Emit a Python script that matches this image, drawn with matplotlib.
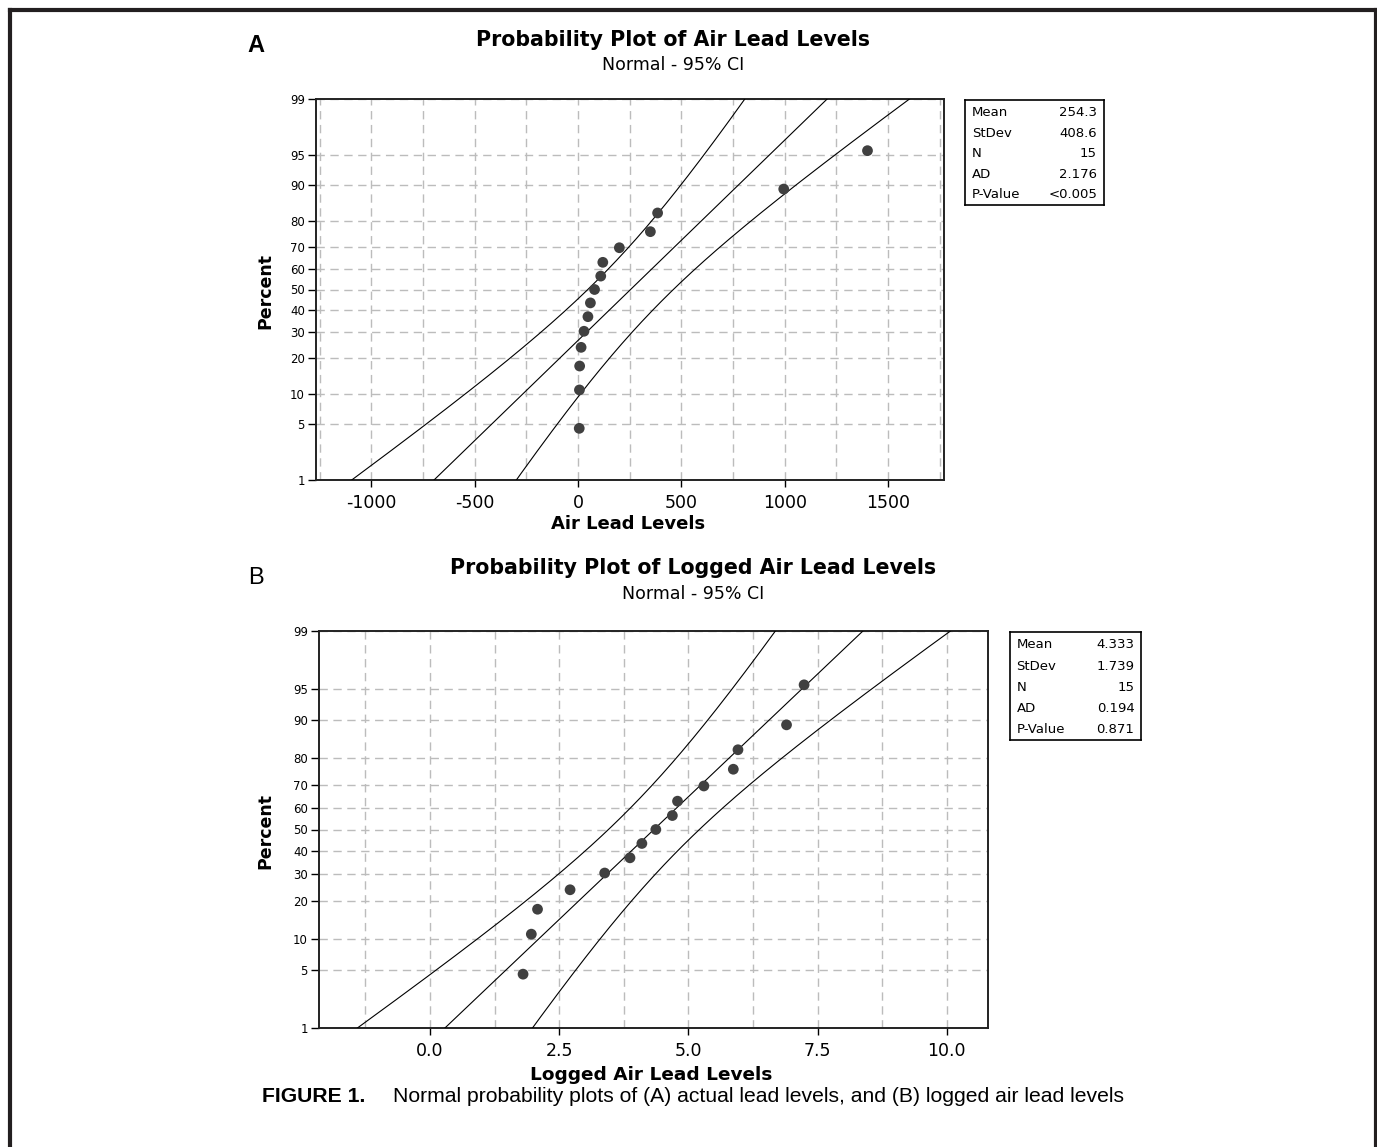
import numpy as np
import matplotlib
matplotlib.use('Agg')
import matplotlib.pyplot as plt
from matplotlib.lines import Line2D
from statistics import NormalDist

nd = NormalDist()

# plotting positions (percent) of the 15 ranked samples
percent = [4.5, 11.0, 17.5, 24.0, 30.5, 37.0, 43.5, 50.0, 56.5, 63.0, 69.5, 76.0, 82.5, 89.0, 95.5]
percent_ticks = [1, 5, 10, 20, 30, 40, 50, 60, 70, 80, 90, 95, 99]

# panel A - air lead levels
air_lead = [6, 7, 8, 15, 29, 48, 60, 80, 110, 120, 200, 350, 385, 995, 1400]
stats_names = ['Mean', 'StDev', 'N', 'AD', 'P-Value']
stats_a = ['254.3', '408.6', '15', '2.176', '<0.005']
mean_a, sd_a, n_a = 254.3, 408.6, 15
xticks_a = [-1000, -500, 0, 500, 1000, 1500]

# panel B - logged air lead levels
logged_lead = [1.80, 1.96, 2.08, 2.71, 3.38, 3.87, 4.10, 4.37, 4.69, 4.79, 5.30, 5.87, 5.96, 6.90, 7.24]
stats_b = ['4.333', '1.739', '15', '0.194', '0.871']
mean_b, sd_b, n_b = 4.333, 1.739, 15
xticks_b = [0.0, 2.5, 5.0, 7.5, 10.0]


def to_z(p):
    p = np.asarray(p, dtype=float) / 100.0
    ok = np.isfinite(p)
    p = np.clip(np.where(ok, p, 0.5), 1e-9, 1 - 1e-9)
    z = np.vectorize(nd.inv_cdf, otypes=[float])(p)
    return np.where(ok, z, np.nan)


def from_z(z):
    return np.vectorize(nd.cdf, otypes=[float])(np.asarray(z, dtype=float)) * 100.0


def prob_plot(ax, xs, mean, sd, n, xlim, xticks, grid_step, xfmt):
    ax.set_yscale('function', functions=(to_z, from_z))
    # fitted line and 95% CI for the percentiles
    z = np.linspace(-4.5, 4.5, 400)
    pct = from_z(z)
    half = 1.96 * sd * np.sqrt(1.0 / n + z ** 2 / (2.0 * n))
    fit = mean + z * sd
    for line in (fit - half, fit, fit + half):
        ax.plot(line, pct, color='black', lw=0.8, zorder=3)
    ax.scatter(xs, percent, s=60, color='#404040', edgecolors='none', zorder=4)

    ax.set_xlim(*xlim)
    ax.set_ylim(1, 99)
    ax.set_yticks(percent_ticks)
    ax.set_yticklabels([str(t) for t in percent_ticks])
    ax.set_xticks(xticks)
    ax.set_xticklabels([xfmt.format(t) for t in xticks])
    minor = np.arange(np.ceil(xlim[0] / grid_step) * grid_step, xlim[1], grid_step)
    ax.set_xticks([m for m in minor if not np.any(np.isclose(m, xticks))], minor=True)
    ax.set_yticks([], minor=True)
    ax.tick_params(which='minor', length=0)
    ax.tick_params(axis='y', which='major', length=6, width=1, labelsize=8.5, pad=2)
    ax.tick_params(axis='x', which='major', length=5, width=1, labelsize=12.5, pad=5)
    ax.grid(True, which='both', color='#bcbcbc', lw=1, ls=(0, (6, 4)), zorder=0)
    for s in ax.spines.values():
        s.set_linewidth(1.4)
        s.set_color('#222222')


def stats_box(rect, values):
    bx = fig.add_axes(rect)
    bx.set_xticks([])
    bx.set_yticks([])
    for s in bx.spines.values():
        s.set_linewidth(1.2)
    for i, (name, val) in enumerate(zip(stats_names, values)):
        y = 0.88 - i * 0.195
        bx.text(0.05, y, name, fontsize=9.5, va='center', ha='left', transform=bx.transAxes)
        bx.text(0.95, y, val, fontsize=9.5, va='center', ha='right', transform=bx.transAxes)


W, H = 1377, 1147
fig = plt.figure(figsize=(W / 100, H / 100), dpi=100)


def fx(px):
    return px / W


def fy(py):
    return 1 - py / H


# panel A
ax_a = fig.add_axes([fx(316), fy(480), fx(944 - 316), (480 - 99) / H])
prob_plot(ax_a, air_lead, mean_a, sd_a, n_a, (-1267, 1770), xticks_a, 250, '{:d}')
stats_box([fx(965), fy(205), fx(1104 - 965), (205 - 100) / H], stats_a)

# panel B
ax_b = fig.add_axes([fx(319), fy(1028), fx(988 - 319), (1028 - 631) / H])
prob_plot(ax_b, logged_lead, mean_b, sd_b, n_b, (-2.15, 10.8), xticks_b, 1.25, '{:.1f}')
stats_box([fx(1010), fy(740), fx(1141 - 1010), (740 - 632) / H], stats_b)

# titles and labels
fig.text(fx(256), fy(45), 'A', fontsize=17, fontweight='bold', family='Liberation Sans', ha='center', va='center')
fig.text(fx(256), fy(578), 'B', fontsize=17, family='Liberation Sans', ha='center', va='center')
fig.text(fx(673), fy(40), 'Probability Plot of Air Lead Levels', fontsize=14.8, fontweight='bold', ha='center', va='center')
fig.text(fx(673), fy(65), 'Normal - 95% CI', fontsize=12.5, ha='center', va='center')
fig.text(fx(693), fy(568), 'Probability Plot of Logged Air Lead Levels', fontsize=14.8, fontweight='bold', ha='center', va='center')
fig.text(fx(693), fy(594), 'Normal - 95% CI', fontsize=12.5, ha='center', va='center')
fig.text(fx(628), fy(524), 'Air Lead Levels', fontsize=13, fontweight='bold', ha='center', va='center')
fig.text(fx(651), fy(1075), 'Logged Air Lead Levels', fontsize=13.3, fontweight='bold', ha='center', va='center')
fig.text(fx(265), fy(291), 'Percent', fontsize=12.5, fontweight='bold', rotation=90, ha='center', va='center')
fig.text(fx(265), fy(831), 'Percent', fontsize=12.5, fontweight='bold', rotation=90, ha='center', va='center')

# caption
fig.text(fx(262), fy(1097), 'FIGURE 1.', fontsize=15.2, fontweight='bold', family='Liberation Sans', ha='left', va='center')
fig.text(fx(393), fy(1097), 'Normal probability plots of (A) actual lead levels, and (B) logged air lead levels',
         fontsize=15.2, family='Liberation Sans', ha='left', va='center')

# page frame (open at the bottom)
frame = dict(color='#231f20', lw=3, solid_capstyle='projecting')
fig.add_artist(Line2D([fx(10), fx(10)], [0, fy(10)], **frame))
fig.add_artist(Line2D([fx(10), fx(1376)], [fy(10), fy(10)], **frame))
fig.add_artist(Line2D([fx(1376), fx(1376)], [0, fy(10)], **frame))

fig.savefig('out.png', dpi=100)
